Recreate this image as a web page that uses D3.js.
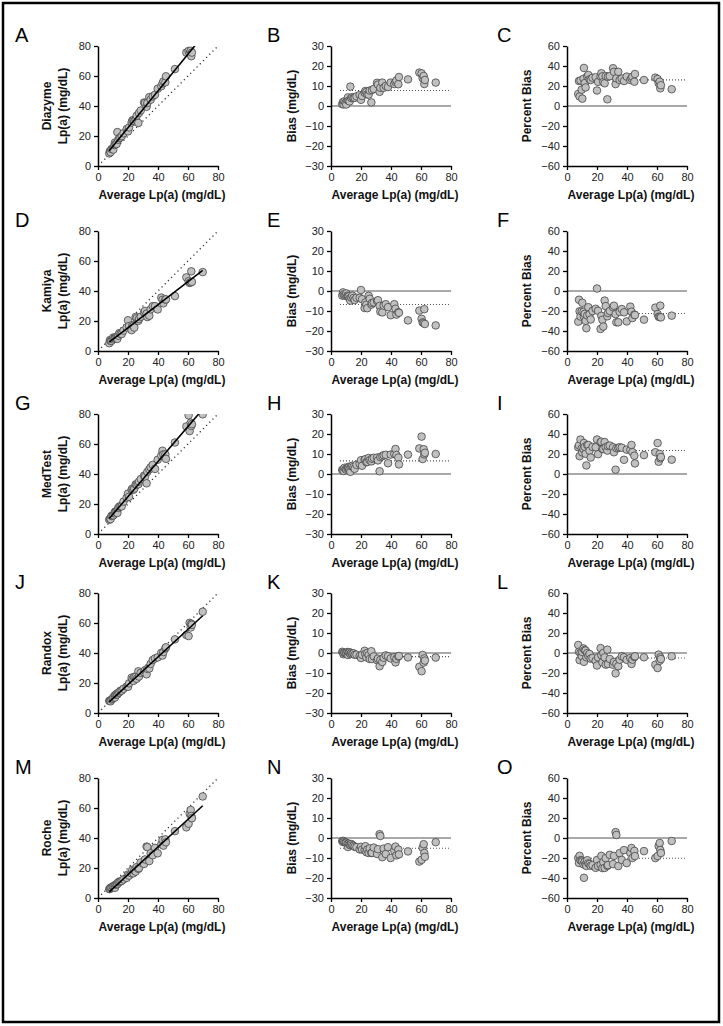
<!DOCTYPE html>
<html><head><meta charset="utf-8">
<script src="https://cdn.jsdelivr.net/npm/d3@7"></script>
<style>
body{margin:0;background:#fff}
text{font-family:Arial,"Liberation Sans",Helvetica,sans-serif}
</style>
</head><body>
<svg id="chart" width="723" height="1026"></svg>
<script>
// ---- DATA ----
// consensus average Lp(a) (mg/dL), shared x for all panels
const avgLpa = [7.5,8.0,8.4,9.0,9.8,10.2,11.0,11.3,11.8,12.4,12.9,13.5,14.2,15.0,15.8,17.0,19.1,20.0,20.7,22.4,
  22.9,23.6,24.2,25.1,25.8,26.9,27.3,28.5,30.7,31.3,32.4,32.9,34.2,35.1,36.5,38.0,39.8,42.2,43.0,43.6,
  44.9,45.3,51.3,58.9,60.4,61.1,61.8,62.2,62.6,69.8];
// bias (method - average), mg/dL
const biasDiazyme = [0.9,2.0,0.8,2.3,1.6,0.75,3.0,4.3,2.7,2.3,9.7,4.0,4.4,4.0,4.1,4.8,5.5,3.1,5.0,6.6,
  7.5,7.0,5.8,5.7,7.7,1.8,8.0,8.5,11.6,10.7,7.1,9.1,11.7,9.1,10.0,9.5,11.7,11.0,12.0,12.8,
  10.9,14.5,13.3,16.7,16.3,13.9,15.0,11.0,13.0,11.7];
const biasKamiya = [-2.3,-0.7,-1.7,-2.3,-2.0,-1.2,-2.3,-2.9,-2.7,-3.7,-4.8,-3.3,-2.3,-3.5,-4.5,-3.4,-3.4,0.5,-4.1,-8.5,
  -5.7,-6.8,-8.6,-2.4,-3.9,-6.8,-6.0,-5.7,-5.0,-4.6,-7.5,-10.3,-10.7,-7.3,-6.6,-8.1,-12.1,-6.6,-8.9,-11.8,
  -10.6,-10.9,-14.7,-9.8,-13.9,-15.7,-16.1,-9.1,-16.5,-17.2];
const biasMedTest = [2.0,2.3,1.5,3.1,2.5,2.2,2.75,3.5,3.2,2.5,1.1,3.9,4.1,3.5,2.6,4.6,5.1,6.9,4.1,7.1,
  7.4,5.9,6.05,8.0,6.9,6.3,7.6,8.1,8.2,6.8,1.4,8.5,8.9,9.4,9.6,5.4,9.7,10.1,12.5,9.5,
  8.2,4.8,9.7,12.8,18.7,7.5,12.4,9.8,10.6,10.0];
const biasRandox = [0.6,0.1,-0.6,0,-0.3,0.1,0.5,-1.0,0.35,0.3,-0.55,0,-0.4,-0.15,-0.9,-0.85,-1.5,-2.5,-0.9,1.1,
  -0.5,-2.2,0,-1.1,-3.0,0.9,-3.0,-1.7,-3.6,-2.8,-6.6,-3.5,-4.5,-2.35,-1.2,-1.6,-2.7,-2.1,-4.7,-2.9,
  -1.8,-1.5,-2.2,-6.9,-9.1,-1.0,-4.8,-2.7,-3.8,-2.3];
const biasRoche = [-1.5,-2.0,-1.5,-2.0,-2.2,-2.4,-2.9,-4.5,-2.8,-3.3,-3.6,-3.0,-3.6,-3.9,-4.4,-4.6,-5.7,-4.4,-5.8,-6.0,
  -4.1,-7.1,-5.8,-7.5,-5.2,-7.5,-7.4,-4.8,-8.0,-5.6,1.9,1.0,-9.6,-5.3,-8.0,-4.6,-10.0,-6.3,-4.3,-8.7,
  -5.8,-8.2,-6.7,-11.8,-10.9,-4.9,-3.1,-7.5,-9.4,-2.1];

const methods = ["Diazyme","Kamiya","MedTest","Randox","Roche"];
const biasByMethod = [biasDiazyme,biasKamiya,biasMedTest,biasRandox,biasRoche];
const panelLetters = [["A","B","C"],["D","E","F"],["G","H","I"],["J","K","L"],["M","N","O"]];
const xTicks = [0,20,40,60,80];
const compTicks = [0,20,40,60,80];
const biasTicks = [-30,-20,-10,0,10,20,30];
const pctTicks = [-60,-40,-20,0,20,40,60];
const xTitle = "Average Lp(a) (mg/dL)";
const compTitle = "Lp(a) (mg/dL)";
const biasTitle = "Bias (mg/dL)";
const pctTitle = "Percent Bias";
const meanLineStartX = 6;

// ---- LAYOUT ----
const svg = d3.select("#chart");
const rowBottoms = [166,351,534,713,898];
const colLefts = [98,331,567];
const letterX = [15,267,497];
const S = 120;

svg.append("rect").attr("x",3).attr("y",3).attr("width",716).attr("height",1019)
  .attr("fill","none").attr("stroke","#000").attr("stroke-width",2.5);

const x = d3.scaleLinear().domain([0,80]).range([0,S]);

function drawPanel(r, c, yDomain, yTicks, pts, kind, yTitleLines) {
  const g = svg.append("g").attr("transform",`translate(${colLefts[c]},${rowBottoms[r]-S})`);
  const y = d3.scaleLinear().domain(yDomain).range([S,0]);
  const cid = `clip${r}${c}`;
  g.append("clipPath").attr("id",cid).append("rect").attr("x",0).attr("y",0).attr("width",S).attr("height",S);
  const plot = g.append("g").attr("clip-path",`url(#${cid})`);
  const line = d3.line().x(d=>x(d[0])).y(d=>y(d[1]));
  const vis = pts.filter(p=>p.y>=yDomain[0] && p.y<=yDomain[1]);

  if (kind==="comp") {
    plot.append("path").datum([[0,0],[80,80]]).attr("d",line)
      .attr("fill","none").attr("stroke","#333").attr("stroke-width",1.3).attr("stroke-dasharray","1.2,3.3");
  } else {
    plot.append("path").datum([[0,0],[80,0]]).attr("d",line)
      .attr("fill","none").attr("stroke","#555").attr("stroke-width",1.1);
    const m = d3.mean(pts,p=>p.y);
    plot.append("path").datum([[meanLineStartX,m],[80,m]]).attr("d",line)
      .attr("fill","none").attr("stroke","#555").attr("stroke-width",1.1).attr("stroke-dasharray","1,2");
  }
  plot.selectAll("circle").data(vis).join("circle")
    .attr("cx",d=>x(d.x)).attr("cy",d=>y(d.y)).attr("r",3.8)
    .attr("fill","#c0c0c0").attr("stroke","#444").attr("stroke-width",0.8);
  if (kind==="comp") {
    const mx = d3.mean(pts,p=>p.x), my = d3.mean(pts,p=>p.y);
    const sxy = d3.sum(pts,p=>(p.x-mx)*(p.y-my)), sxx = d3.sum(pts,p=>(p.x-mx)*(p.x-mx));
    const b = sxy/sxx, a = my-b*mx;
    const [x0,x1] = d3.extent(pts,p=>p.x);
    plot.append("path").datum([[x0,a+b*x0],[x1,a+b*x1]]).attr("d",line)
      .attr("fill","none").attr("stroke","#000").attr("stroke-width",1.6);
  }
  // axes
  const ax = g.append("g").attr("transform",`translate(0,${S})`)
    .call(d3.axisBottom(x).tickValues(xTicks).tickSize(4).tickSizeOuter(0).tickPadding(3));
  const ay = g.append("g")
    .call(d3.axisLeft(y).tickValues(yTicks).tickSize(4).tickSizeOuter(0).tickPadding(3));
  [ax,ay].forEach(a=>{
    a.select(".domain").attr("stroke","#000").attr("stroke-width",1.5);
    a.selectAll(".tick line").attr("stroke","#000").attr("stroke-width",1.3);
    a.selectAll(".tick text").attr("font-size",11).attr("fill","#222")
      .attr("font-family","Arial, 'Liberation Sans', sans-serif");
  });
  // titles
  g.append("text").attr("x",S/2+4).attr("y",S+33).attr("text-anchor","middle")
    .attr("font-size",12).attr("font-weight","bold").attr("fill","#111").text(xTitle);
  yTitleLines.forEach(t=>{
    g.append("text").attr("transform",`translate(${t.dx},${S/2}) rotate(-90)`)
      .attr("text-anchor","middle").attr("dominant-baseline","central")
      .attr("font-size",12).attr("font-weight","bold").attr("fill","#111").text(t.text);
  });
  svg.append("text").attr("x",letterX[c]).attr("y",rowBottoms[r]-S-4)
    .attr("font-size",20).attr("fill","#000").text(panelLetters[r][c]);
}

methods.forEach((name,r)=>{
  const bias = biasByMethod[r];
  const comp = avgLpa.map((v,i)=>({x:v,y:v+bias[i]}));
  const bp = avgLpa.map((v,i)=>({x:v,y:bias[i]}));
  const pp = avgLpa.map((v,i)=>({x:v,y:100*bias[i]/v}));
  drawPanel(r,0,[0,80],compTicks,comp,"comp",[{dx:-51,text:name},{dx:-35,text:compTitle}]);
  drawPanel(r,1,[-30,30],biasTicks,bp,"bias",[{dx:-39,text:biasTitle}]);
  drawPanel(r,2,[-60,60],pctTicks,pp,"pct",[{dx:-40,text:pctTitle}]);
});
</script>
</body></html>
